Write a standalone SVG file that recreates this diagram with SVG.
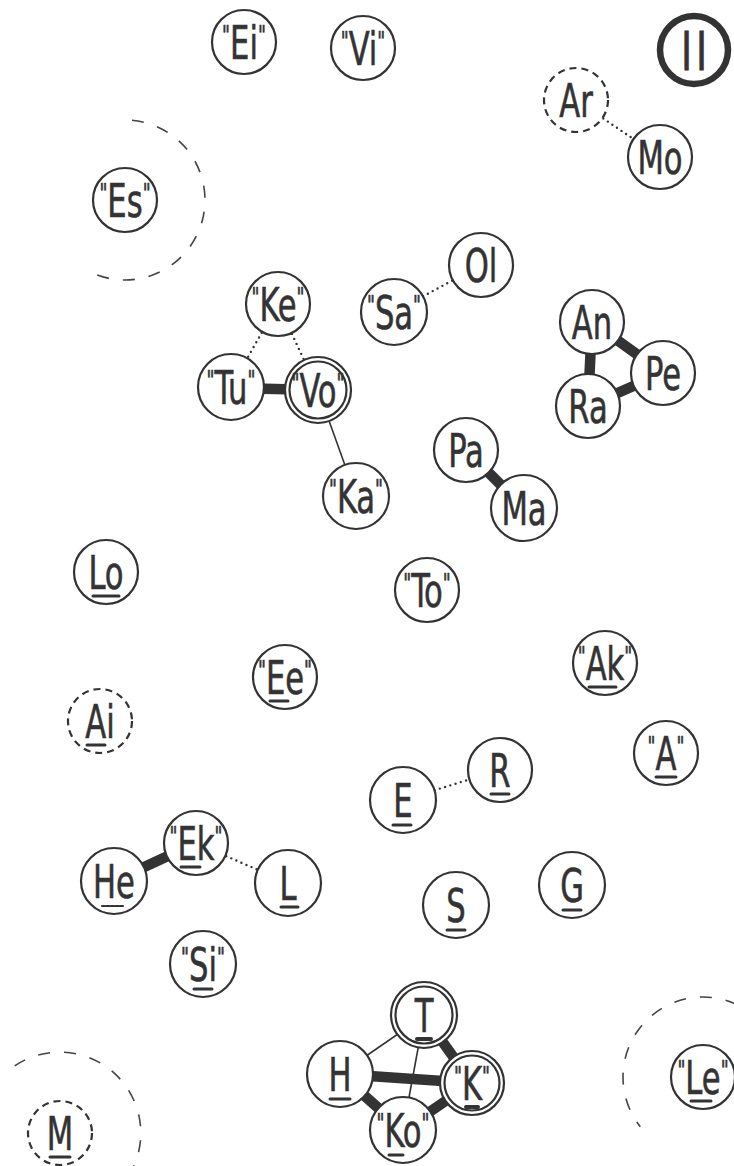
<svg xmlns="http://www.w3.org/2000/svg" width="734" height="1166" viewBox="0 0 734 1166">
<style>
.node circle{fill:#fff;stroke:#333;stroke-width:2.2}
.node circle.in{fill:none}
.dash circle{stroke-dasharray:7 5}
.big circle{stroke-width:6.5}
text{font-family:"DejaVu Sans Condensed","DejaVu Sans",sans-serif;font-size:46px;fill:#333;stroke:#333;stroke-width:.6;text-anchor:middle;transform:scaleX(.74)}
.big text{font-size:54px;letter-spacing:6px;stroke-width:1}
.q{font-size:26px}
.ul{stroke:#333;stroke-width:3;stroke-linecap:round}
.ul.lt{stroke-width:2;stroke-dasharray:3 1.5}
.thick{stroke:#333;stroke-width:10.5;fill:none}
.thin{stroke:#333;stroke-width:1.6;fill:none}
.dot{stroke:#333;stroke-width:2.4;stroke-dasharray:0 5.5;stroke-linecap:round;fill:none}
.halo{fill:none;stroke:#444;stroke-width:1.6;stroke-dasharray:12 14}
</style>
<rect width="734" height="1166" fill="#fff"/>
<g id="connectors">
<line class="dot" x1="576" y1="100" x2="660" y2="157"/>
<line class="dot" x1="278" y1="304" x2="231" y2="387"/>
<line class="dot" x1="278" y1="304" x2="318" y2="390"/>
<line class="thick" x1="231" y1="388" x2="318" y2="390"/>
<line class="thin" x1="318" y1="390" x2="356" y2="496"/>
<line class="dot" x1="394" y1="312" x2="481" y2="265"/>
<line class="thick" x1="592" y1="322" x2="663" y2="373"/>
<line class="thick" x1="592" y1="322" x2="588" y2="406"/>
<line class="thick" x1="588" y1="406" x2="663" y2="373"/>
<line class="thick" x1="466" y1="450" x2="524" y2="508"/>
<line class="dot" x1="403" y1="800" x2="500" y2="770"/>
<line class="thick" x1="114" y1="881" x2="196" y2="843"/>
<line class="dot" x1="196" y1="843" x2="288" y2="883"/>
<line class="thin" x1="424" y1="1016" x2="340" y2="1074"/>
<line class="thick" x1="424" y1="1016" x2="472" y2="1083"/>
<line class="thick" x1="340" y1="1074" x2="472" y2="1083"/>
<line class="thick" x1="340" y1="1074" x2="403" y2="1130"/>
<line class="thick" x1="403" y1="1130" x2="472" y2="1083"/>
<line class="thin" x1="424" y1="1016" x2="403" y2="1130"/>
</g>
<g id="n-ei" class="node" transform="translate(244,42)"><circle r="32"/><text y="17"><tspan class="q" dy="-14">"</tspan><tspan dy="14">Ei</tspan><tspan class="q" dy="-14">"</tspan></text></g>
<g id="n-vi" class="node" transform="translate(363,48)"><circle r="32"/><text y="17"><tspan class="q" dy="-14">"</tspan><tspan dy="14">Vi</tspan><tspan class="q" dy="-14">"</tspan></text></g>
<g id="n-ii" class="node big" transform="translate(694,50)"><circle r="34"/><text x="3" y="20">II</text></g>
<g id="n-ar" class="node dash" transform="translate(576,100)"><circle r="32"/><text y="17">Ar</text></g>
<g id="n-mo" class="node" transform="translate(660,157)"><circle r="32"/><text y="17">Mo</text></g>
<g id="n-es" class="node" transform="translate(125,200)"><path class="halo" d="M7,-79.7 A80,80 0 1 1 -32.5,73.1"/><circle r="32"/><text y="17"><tspan class="q" dy="-14">"</tspan><tspan dy="14">Es</tspan><tspan class="q" dy="-14">"</tspan></text></g>
<g id="n-ke" class="node" transform="translate(278,304)"><circle r="32"/><text y="17"><tspan class="q" dy="-14">"</tspan><tspan dy="14">Ke</tspan><tspan class="q" dy="-14">"</tspan></text></g>
<g id="n-tu" class="node" transform="translate(231,387)"><circle r="33"/><text y="17"><tspan class="q" dy="-14">"</tspan><tspan dy="14">Tu</tspan><tspan class="q" dy="-14">"</tspan></text></g>
<g id="n-vo" class="node" transform="translate(318,390)"><circle r="33"/><circle class="in" r="28.5"/><text y="17"><tspan class="q" dy="-14">"</tspan><tspan dy="14">Vo</tspan><tspan class="q" dy="-14">"</tspan></text></g>
<g id="n-ka" class="node" transform="translate(356,496)"><circle r="33"/><text y="17"><tspan class="q" dy="-14">"</tspan><tspan dy="14">Ka</tspan><tspan class="q" dy="-14">"</tspan></text></g>
<g id="n-sa" class="node" transform="translate(394,312)"><circle r="33"/><text y="17"><tspan class="q" dy="-14">"</tspan><tspan dy="14">Sa</tspan><tspan class="q" dy="-14">"</tspan></text></g>
<g id="n-ol" class="node" transform="translate(481,265)"><circle r="32"/><text y="17">Ol</text></g>
<g id="n-an" class="node" transform="translate(592,322)"><circle r="32"/><text y="17">An</text></g>
<g id="n-pe" class="node" transform="translate(663,373)"><circle r="32"/><text y="17">Pe</text></g>
<g id="n-ra" class="node" transform="translate(588,406)"><circle r="32"/><text y="17">Ra</text></g>
<g id="n-pa" class="node" transform="translate(466,450)"><circle r="32"/><text y="17">Pa</text></g>
<g id="n-ma" class="node" transform="translate(524,508)"><circle r="33"/><text y="17">Ma</text></g>
<g id="n-lo" class="node" transform="translate(106,572)"><circle r="32"/><text y="17">Lo</text><line class="ul" x1="-13" y1="24" x2="13" y2="24"/></g>
<g id="n-ee" class="node" transform="translate(285,677)"><circle r="32"/><text y="17"><tspan class="q" dy="-14">"</tspan><tspan dy="14">Ee</tspan><tspan class="q" dy="-14">"</tspan></text><line class="ul" x1="-15" y1="24" x2="3" y2="24"/></g>
<g id="n-ai" class="node dash" transform="translate(100,721)"><circle r="32"/><text y="17">Ai</text><line class="ul" x1="-13" y1="24" x2="5" y2="24"/></g>
<g id="n-to" class="node" transform="translate(427,590)"><circle r="32"/><text y="17"><tspan class="q" dy="-14">"</tspan><tspan dy="14">To</tspan><tspan class="q" dy="-14">"</tspan></text></g>
<g id="n-ak" class="node" transform="translate(605,663)"><circle r="32"/><text y="17"><tspan class="q" dy="-14">"</tspan><tspan dy="14">Ak</tspan><tspan class="q" dy="-14">"</tspan></text><line class="ul" x1="-16" y1="24" x2="11" y2="24"/></g>
<g id="n-a" class="node" transform="translate(666,753)"><circle r="32"/><text y="17"><tspan class="q" dy="-14">"</tspan><tspan dy="14">A</tspan><tspan class="q" dy="-14">"</tspan></text><line class="ul" x1="-10" y1="24" x2="10" y2="24"/></g>
<g id="n-r" class="node" transform="translate(500,770)"><circle r="32"/><text y="17">R</text><line class="ul" x1="-9" y1="24" x2="9" y2="24"/></g>
<g id="n-e" class="node" transform="translate(403,800)"><circle r="33"/><text y="17">E</text><line class="ul" x1="-10" y1="25" x2="8" y2="25"/></g>
<g id="n-s" class="node" transform="translate(456,905)"><circle r="33"/><text y="17">S</text><line class="ul" x1="-9" y1="25" x2="9" y2="25"/></g>
<g id="n-g" class="node" transform="translate(572,885)"><circle r="33"/><text y="17">G</text><line class="ul" x1="-9" y1="25" x2="9" y2="25"/></g>
<g id="n-he" class="node" transform="translate(114,881)"><circle r="33"/><text y="17">He</text><line class="ul lt" x1="-12" y1="25" x2="10" y2="25"/></g>
<g id="n-ek" class="node" transform="translate(196,843)"><circle r="32"/><text y="17"><tspan class="q" dy="-14">"</tspan><tspan dy="14">Ek</tspan><tspan class="q" dy="-14">"</tspan></text><line class="ul" x1="-15" y1="24" x2="4" y2="24"/></g>
<g id="n-l" class="node" transform="translate(288,883)"><circle r="33"/><text y="17">L</text><line class="ul" x1="-7" y1="24" x2="10" y2="24"/></g>
<g id="n-si" class="node" transform="translate(203,964)"><circle r="33"/><text y="17"><tspan class="q" dy="-14">"</tspan><tspan dy="14">Si</tspan><tspan class="q" dy="-14">"</tspan></text><line class="ul" x1="-9" y1="25" x2="9" y2="25"/></g>
<g id="n-t" class="node" transform="translate(424,1015)"><circle r="33"/><circle class="in" r="28.5"/><text y="17">T</text><line class="ul" x1="-7" y1="24" x2="7" y2="24" style="stroke-width:4"/></g>
<g id="n-k" class="node" transform="translate(472,1083)"><circle r="32"/><circle class="in" r="27.5"/><text y="17"><tspan class="q" dy="-14">"</tspan><tspan dy="14">K</tspan><tspan class="q" dy="-14">"</tspan></text><line class="ul" x1="-6" y1="24" x2="6" y2="24" style="stroke-width:4"/></g>
<g id="n-h" class="node" transform="translate(340,1074)"><circle r="33"/><text y="17">H</text><line class="ul" x1="-10" y1="25" x2="10" y2="25"/></g>
<g id="n-ko" class="node" transform="translate(403,1130)"><circle r="33"/><text y="17"><tspan class="q" dy="-14">"</tspan><tspan dy="14">Ko</tspan><tspan class="q" dy="-14">"</tspan></text><line class="ul" x1="-14" y1="25" x2="0" y2="25"/></g>
<g id="n-m" class="node dash" transform="translate(60,1133)"><path class="halo" d="M-45.3,-67.2 A81,81 0 0 1 70,40.5"/><circle r="32"/><text y="17">M</text><line class="ul" x1="-10" y1="24" x2="10" y2="24"/></g>
<g id="n-le" class="node" transform="translate(703,1077)"><path class="halo" d="M33.8,-72.5 A80,80 0 0 0 -62.7,49.7"/><circle r="32"/><text y="17"><tspan class="q" dy="-14">"</tspan><tspan dy="14">Le</tspan><tspan class="q" dy="-14">"</tspan></text><line class="ul" x1="-12" y1="24" x2="8" y2="24"/></g>
</svg>
